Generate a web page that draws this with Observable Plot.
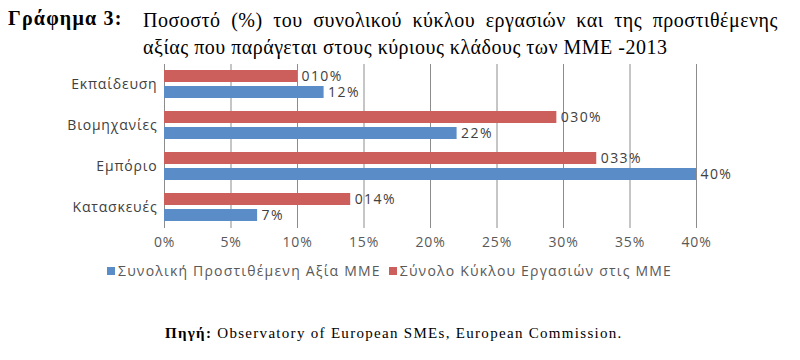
<!DOCTYPE html>
<html><head><meta charset="utf-8">
<script src="https://cdn.jsdelivr.net/npm/d3@7"></script>
<script src="https://cdn.jsdelivr.net/npm/@observablehq/plot@0.6"></script>
<style>
body{margin:0;background:#fff;width:800px;height:360px;position:relative;overflow:hidden}
.t{position:absolute;font-family:"Liberation Serif","Times New Roman",serif;color:#000;white-space:nowrap}
#legend{position:absolute;left:107px;top:261px;font-family:"Open Sans",sans-serif;font-size:14px;letter-spacing:1.2px;color:#595959;white-space:nowrap;display:flex;align-items:center}
#legend .sw{display:inline-block;width:8px;height:8px;margin-right:3px}
#legend .it{display:flex;align-items:center;margin-right:8px}
.c text{letter-spacing:0.8px}
.c g[aria-label="text"] text{letter-spacing:1.4px}
</style></head><body>
<div class="t" id="t1" style="left:8px;top:7px;font-size:20px;font-weight:bold;letter-spacing:1.2px">Γράφημα 3:</div>
<div class="t" id="t2" style="left:143px;top:7px;font-size:20px;line-height:27px;letter-spacing:0.5px">
<div style="width:635px;text-align:justify;text-align-last:justify">Ποσοστό (%) του συνολικού κύκλου εργασιών και της προστιθέμενης</div>
<div>αξίας που παράγεται στους κύριους κλάδους των ΜΜΕ -2013</div></div>
<div id="chart" style="position:absolute;left:0;top:62px"></div>
<div id="legend"></div>
<div class="t" id="cap" style="left:165px;top:325px;font-size:15px;letter-spacing:1.3px"><b>Πηγή:</b> Observatory of European SMEs, European Commission.</div>
<script>
const categories = ["Εκπαίδευση", "Βιομηχανίες", "Εμπόριο", "Κατασκευές"];
const seriesNames = ["Σύνολο Κύκλου Εργασιών στις ΜΜΕ", "Συνολική Προστιθέμενη Αξία ΜΜΕ"];
const turnoverValues = [10, 29.5, 32.5, 14];
const turnoverLabels = ["010%", "030%", "033%", "014%"];
const valueAddedValues = [12, 22, 40, 7];
const valueAddedLabels = ["12%", "22%", "40%", "7%"];
const xTicks = [0, 5, 10, 15, 20, 25, 30, 35, 40];
const colors = ["#cc5f5b", "#5a8dc7"];
const legendOrder = [1, 0];

const data = [];
categories.forEach((c, i) => {
  data.push({cat: c, series: seriesNames[0], value: turnoverValues[i], label: turnoverLabels[i]});
  data.push({cat: c, series: seriesNames[1], value: valueAddedValues[i], label: valueAddedLabels[i]});
});

const chart = Plot.plot({
  className: "c",
  width: 800,
  height: 190,
  marginLeft: 164,
  marginRight: 104,
  marginTop: 2,
  marginBottom: 24,
  style: {fontFamily: "'Open Sans', sans-serif", fontSize: "14px", color: "#404040", background: "transparent"},
  x: {domain: [0, 40], ticks: xTicks, tickFormat: d => d + "%", tickSize: 0, tickPadding: 9, label: null},
  fy: {domain: categories, padding: 0, axis: "left", tickSize: 0, tickPadding: 7, label: null},
  y: {domain: seriesNames, axis: null, paddingInner: 0.22, paddingOuter: 0.38},
  color: {domain: seriesNames, range: colors},
  marks: [
    Plot.ruleX(xTicks, {x: d => d, stroke: "#8c8c8c", strokeWidth: 1}),
    Plot.barX(data, {fy: "cat", y: "series", x: "value", fill: "series"}),
    Plot.text(data, {fy: "cat", y: "series", x: "value", text: "label", textAnchor: "start", dx: 4, fill: "#404040", fontSize: 14})
  ]
});
chart.querySelectorAll("g[aria-label='x-axis tick label'] text, g[aria-label='x-axis'] text").forEach(t => t.setAttribute("fill", "#595959"));
document.getElementById("chart").appendChild(chart);

const legend = document.getElementById("legend");
legendOrder.forEach(i => {
  const it = document.createElement("span");
  it.className = "it";
  const sw = document.createElement("span");
  sw.className = "sw";
  sw.style.background = colors[i];
  it.appendChild(sw);
  it.appendChild(document.createTextNode(seriesNames[i]));
  legend.appendChild(it);
});
</script>
</body></html>
